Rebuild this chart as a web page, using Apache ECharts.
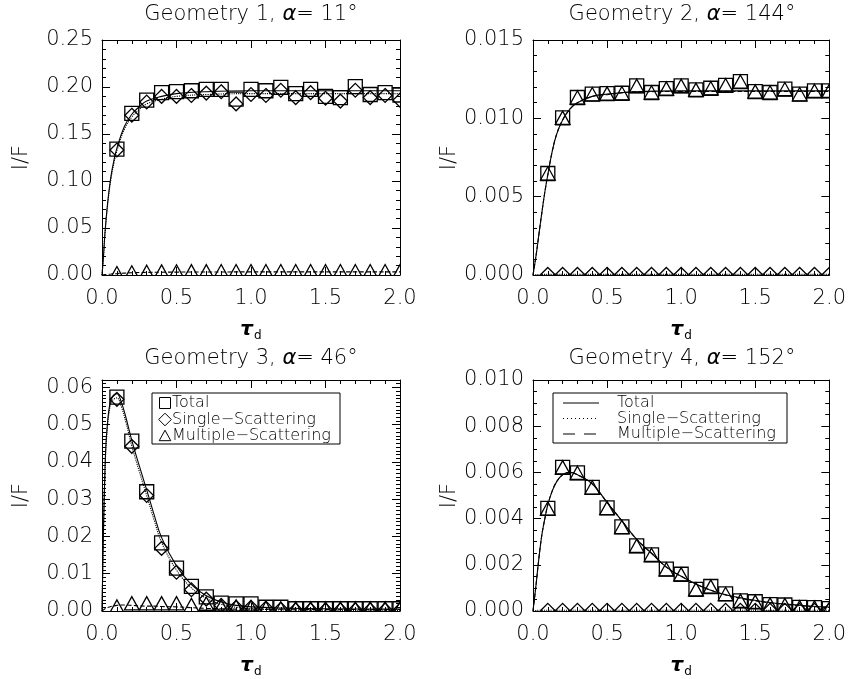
<!DOCTYPE html>
<html>
<head>
<meta charset="utf-8">
<script src="https://cdn.jsdelivr.net/npm/echarts@6/dist/echarts.min.js"></script>
<style>
  html, body { margin: 0; padding: 0; background: #fff; }
  #chart { width: 849px; height: 679px; }
</style>
</head>
<body>
<div id="chart"></div>
<script>
// Optical depth grid of the simulated points
const tauPoints = [0.1, 0.2, 0.3, 0.4, 0.5, 0.6, 0.7, 0.8, 0.9, 1.0,
                   1.1, 1.2, 1.3, 1.4, 1.5, 1.6, 1.7, 1.8, 1.9, 2.0];

// Geometry 1 (alpha = 11 deg)
const g1Total    = [0.134, 0.172, 0.186, 0.194, 0.195, 0.196, 0.1975, 0.1975, 0.187, 0.1975,
                    0.196, 0.1997, 0.193, 0.1975, 0.190, 0.1887, 0.2003, 0.192, 0.194, 0.1915];
const g1Single   = [0.133, 0.170, 0.184, 0.190, 0.190, 0.191, 0.1935, 0.195, 0.182, 0.192,
                    0.191, 0.1965, 0.1887, 0.194, 0.188, 0.185, 0.1965, 0.1887, 0.191, 0.186];
const g1Multiple = [0.0012, 0.0020, 0.0026, 0.0030, 0.0031, 0.0032, 0.0032, 0.0033, 0.0033, 0.0033,
                    0.0033, 0.0033, 0.0033, 0.0033, 0.0033, 0.0033, 0.0033, 0.0033, 0.0033, 0.0033];

// Geometry 2 (alpha = 144 deg)
const g2Total    = [0.00648, 0.01003, 0.01133, 0.01154, 0.01158, 0.01160, 0.01207, 0.01165, 0.01190, 0.01207,
                    0.01182, 0.01192, 0.01211, 0.01234, 0.01171, 0.01165, 0.01186, 0.01154, 0.01175, 0.01175];
const g2Single   = [0.00004, 0.00004, 0.00004, 0.00004, 0.00004, 0.00004, 0.00004, 0.00004, 0.00004, 0.00004,
                    0.00004, 0.00004, 0.00004, 0.00004, 0.00004, 0.00004, 0.00004, 0.00004, 0.00004, 0.00004];
const g2Multiple = [0.00644, 0.00999, 0.01129, 0.01150, 0.01154, 0.01156, 0.01203, 0.01161, 0.01186, 0.01203,
                    0.01178, 0.01188, 0.01207, 0.01230, 0.01167, 0.01161, 0.01182, 0.01150, 0.01171, 0.01171];

// Geometry 3 (alpha = 46 deg)
const g3Total    = [0.0574, 0.0456, 0.0320, 0.0183, 0.0115, 0.0066, 0.0038, 0.0021, 0.0019, 0.0019,
                    0.0010, 0.0010, 0.0006, 0.0006, 0.0006, 0.0006, 0.0006, 0.0006, 0.0006, 0.0006];
const g3Single   = [0.0568, 0.0442, 0.0310, 0.0168, 0.0104, 0.0057, 0.0032, 0.0015, 0.0010, 0.0010,
                    0.0008, 0.0005, 0.0003, 0.0003, 0.0003, 0.0003, 0.0003, 0.0003, 0.0003, 0.0003];
const g3Multiple = [0.0010, 0.0019, 0.0019, 0.0019, 0.0019, 0.0014, 0.0018, 0.0010, 0.0010, 0.0008,
                    0.0006, 0.0005, 0.0005, 0.0005, 0.0005, 0.0005, 0.0005, 0.0005, 0.0005, 0.0005];

// Geometry 4 (alpha = 152 deg)
const g4Total    = [0.00444, 0.00622, 0.00598, 0.00535, 0.00446, 0.00364, 0.00282, 0.00243, 0.00181, 0.00159,
                    0.00094, 0.00106, 0.00074, 0.00044, 0.00040, 0.00028, 0.00026, 0.00016, 0.00015, 0.00010];
const g4Single   = [0.00003, 0.00003, 0.00003, 0.00003, 0.00003, 0.00003, 0.00003, 0.00003, 0.00003, 0.00003,
                    0.00003, 0.00003, 0.00003, 0.00003, 0.00003, 0.00003, 0.00003, 0.00003, 0.00003, 0.00003];
const g4Multiple = [0.00441, 0.00619, 0.00595, 0.00532, 0.00443, 0.00361, 0.00279, 0.00240, 0.00178, 0.00156,
                    0.00091, 0.00103, 0.00071, 0.00041, 0.00037, 0.00025, 0.00023, 0.00013, 0.00012, 0.00007];

// Model curves
const c1Tau      = [0, 0.01, 0.02, 0.04, 0.06, 0.08, 0.1, 0.15, 0.2, 0.25, 0.3, 0.4, 0.5, 0.7, 1.0, 1.5, 2.0];
const c1Total    = [0, 0.020, 0.045, 0.080, 0.105, 0.122, 0.135, 0.158, 0.171, 0.179, 0.185, 0.190, 0.193, 0.195, 0.196, 0.196, 0.196];
const c1Single   = [0, 0.020, 0.044, 0.078, 0.102, 0.119, 0.132, 0.155, 0.168, 0.176, 0.182, 0.187, 0.190, 0.192, 0.193, 0.193, 0.193];
const c1Multiple = [0, 0.0002, 0.0004, 0.0007, 0.0010, 0.0013, 0.0015, 0.0020, 0.0024, 0.0026, 0.0028, 0.0030, 0.0031, 0.0032, 0.0033, 0.0033, 0.0033];

const c2Tau      = [0, 0.02, 0.04, 0.06, 0.08, 0.1, 0.13, 0.16, 0.2, 0.25, 0.3, 0.4, 0.5, 0.7, 1.0, 1.5, 2.0];
const c2Total    = [0, 0.0012, 0.0026, 0.0040, 0.0053, 0.0064, 0.0079, 0.0090, 0.0099, 0.0106, 0.0110, 0.0114, 0.01155, 0.0117, 0.01175, 0.01175, 0.01175];
const c2Single   = [0, 0.00002, 0.00003, 0.00004, 0.00004, 0.00004, 0.00004, 0.00004, 0.00004, 0.00004, 0.00004, 0.00004, 0.00004, 0.00004, 0.00004, 0.00004, 0.00004];
const c2Multiple = [0, 0.0012, 0.0026, 0.0040, 0.0053, 0.0064, 0.0079, 0.0090, 0.0099, 0.0106, 0.0110, 0.0114, 0.01151, 0.0117, 0.01171, 0.01171, 0.01171];

const c3Tau      = [0, 0.01, 0.02, 0.03, 0.05, 0.07, 0.1, 0.13, 0.16, 0.2, 0.25, 0.3, 0.35, 0.4, 0.5, 0.6, 0.7, 0.8, 0.9, 1.0, 1.2, 1.5, 2.0];
const c3Total    = [0, 0.022, 0.038, 0.047, 0.055, 0.0575, 0.0583, 0.056, 0.052, 0.0458, 0.039, 0.0325, 0.0258, 0.0197, 0.0121, 0.0071, 0.0041, 0.0024, 0.0015, 0.0011, 0.0008, 0.0006, 0.0005];
const c3Single   = [0, 0.021, 0.037, 0.046, 0.054, 0.0565, 0.0572, 0.0548, 0.0507, 0.0443, 0.0375, 0.031, 0.0244, 0.0184, 0.011, 0.0062, 0.0034, 0.0018, 0.0010, 0.0006, 0.0003, 0.0002, 0.0001];
const c3Multiple = [0, 0.0003, 0.0006, 0.0008, 0.0011, 0.0013, 0.0015, 0.0016, 0.0016, 0.0015, 0.0014, 0.0013, 0.0013, 0.0012, 0.0011, 0.0009, 0.0007, 0.0006, 0.0005, 0.0005, 0.0005, 0.0004, 0.0004];

const c4Tau      = [0, 0.02, 0.04, 0.06, 0.08, 0.1, 0.13, 0.16, 0.2, 0.25, 0.3, 0.4, 0.5, 0.6, 0.7, 0.8, 0.9, 1.0, 1.2, 1.4, 1.6, 1.8, 2.0];
const c4Total    = [0, 0.0011, 0.0023, 0.0033, 0.0040, 0.0046, 0.0052, 0.0056, 0.0059, 0.0060, 0.0059, 0.0055, 0.0047, 0.0039, 0.0031, 0.0025, 0.0019, 0.0015, 0.0009, 0.00057, 0.00037, 0.00025, 0.00017];
const c4Single   = [0, 0.00002, 0.00003, 0.00003, 0.00003, 0.00003, 0.00003, 0.00003, 0.00003, 0.00003, 0.00003, 0.00003, 0.00003, 0.00003, 0.00003, 0.00003, 0.00003, 0.00003, 0.00003, 0.00003, 0.00003, 0.00003, 0.00003];
const c4Multiple = [0, 0.0011, 0.0023, 0.0033, 0.0040, 0.0046, 0.0052, 0.0056, 0.0059, 0.0060, 0.0059, 0.0055, 0.0047, 0.0039, 0.0031, 0.0025, 0.0019, 0.0015, 0.0009, 0.00055, 0.00035, 0.00023, 0.00015];

// Axis tick settings
const xTicks = { min: 0, max: 2, interval: 0.5, minor: 5, digits: 1 };
const yTicks = [
  { max: 0.25,   interval: 0.05,  minor: 5,  digits: 2 },
  { max: 0.015,  interval: 0.005, minor: 5,  digits: 3 },
  { max: 0.062,  interval: 0.01,  minor: 10, digits: 2 },
  { max: 0.010,  interval: 0.002, minor: 4,  digits: 3 }
];
const titles = [
  ['Geometry 1, ', '11°'],
  ['Geometry 2, ', '144°'],
  ['Geometry 3, ', '46°'],
  ['Geometry 4, ', '152°']
];

const FONT = '"DejaVu Sans", "Liberation Sans", sans-serif';
const INK = '#000';

const grids = [
  { left: 102, top: 40,  width: 298, height: 235 },
  { left: 533, top: 40,  width: 299, height: 235 },
  { left: 102, top: 380, width: 298, height: 235 },
  { left: 533, top: 380, width: 299, height: 235 }
];

const panels = [
  { pts: [g1Total, g1Single, g1Multiple], curve: [c1Tau, c1Total, c1Single, c1Multiple] },
  { pts: [g2Total, g2Single, g2Multiple], curve: [c2Tau, c2Total, c2Single, c2Multiple] },
  { pts: [g3Total, g3Single, g3Multiple], curve: [c3Tau, c3Total, c3Single, c3Multiple] },
  { pts: [g4Total, g4Single, g4Multiple], curve: [c4Tau, c4Total, c4Single, c4Multiple] }
];

function pairs(xs, ys) { return xs.map((x, i) => [x, ys[i]]); }

// Hollow plot symbols drawn through the axis scales
function markerPoints(kind, cx, cy, s) {
  const h = s / 2;
  if (kind === 'square') return [[cx - h, cy - h], [cx + h, cy - h], [cx + h, cy + h], [cx - h, cy + h]];
  if (kind === 'diamond') { const d = h * 1.15; return [[cx, cy - d], [cx + d, cy], [cx, cy + d], [cx - d, cy]]; }
  return [[cx, cy - h * 1.05], [cx + h * 1.05, cy + h * 0.85], [cx - h * 1.05, cy + h * 0.85]];
}
function markerRenderer(kind, size) {
  return function (params, api) {
    const c = api.coord([api.value(0), api.value(1)]);
    return {
      type: 'polygon',
      shape: { points: markerPoints(kind, c[0], c[1], size) },
      style: { fill: 'none', stroke: INK, lineWidth: 1.3 }
    };
  };
}

const axisCommon = {
  type: 'value',
  axisLine: { show: true, onZero: false, lineStyle: { color: INK, width: 1 } },
  axisTick: { show: true, inside: true, length: 8, lineStyle: { color: INK, width: 1 } },
  minorTick: { show: true, length: 4, lineStyle: { color: INK, width: 1 } },
  splitLine: { show: false },
  minorSplitLine: { show: false }
};

const xAxis = [], yAxis = [], series = [];
grids.forEach((g, i) => {
  const yt = yTicks[i];
  xAxis.push(Object.assign({}, axisCommon, {
    gridIndex: i, position: 'bottom', min: xTicks.min, max: xTicks.max, interval: xTicks.interval,
    minorTick: Object.assign({}, axisCommon.minorTick, { splitNumber: xTicks.minor }),
    axisLabel: { color: INK, fontFamily: FONT, fontWeight: 200, fontSize: 21, margin: 13,
                 formatter: v => v.toFixed(xTicks.digits) },
    name: '{t|τ}{d|d}', nameLocation: 'middle', nameGap: 43,
    nameTextStyle: { rich: {
      t: { fontFamily: FONT, fontSize: 20, fontWeight: 'bold', fontStyle: 'italic', color: INK },
      d: { fontFamily: FONT, fontSize: 12, color: INK, padding: [12, 0, 0, 1] }
    } }
  }));
  xAxis.push(Object.assign({}, axisCommon, {
    gridIndex: i, position: 'top', min: xTicks.min, max: xTicks.max, interval: xTicks.interval,
    minorTick: Object.assign({}, axisCommon.minorTick, { splitNumber: xTicks.minor }),
    axisLabel: { show: false }
  }));
  yAxis.push(Object.assign({}, axisCommon, {
    gridIndex: i, position: 'left', min: 0, max: yt.max, interval: yt.interval,
    minorTick: Object.assign({}, axisCommon.minorTick, { splitNumber: yt.minor }),
    axisLabel: { color: INK, fontFamily: FONT, fontWeight: 200, fontSize: 21, margin: 9,
                 showMaxLabel: (i !== 2), formatter: v => v.toFixed(yt.digits) },
    name: 'I/F', nameLocation: 'middle', nameGap: 70, nameRotate: 90,
    nameTextStyle: { fontFamily: FONT, fontWeight: 200, fontSize: 21, color: INK }
  }));
  yAxis.push(Object.assign({}, axisCommon, {
    gridIndex: i, position: 'right', min: 0, max: yt.max, interval: yt.interval,
    minorTick: Object.assign({}, axisCommon.minorTick, { splitNumber: yt.minor }),
    axisLabel: { show: false }
  }));

  const p = panels[i];
  const lineTypes = ['solid', 'dotted', 'dashed'];
  const names = ['Total', 'Single-Scattering', 'Multiple-Scattering'];
  for (let k = 0; k < 3; k++) {
    series.push({
      type: 'line', name: names[k] + ' model', xAxisIndex: 2 * i, yAxisIndex: 2 * i,
      data: pairs(p.curve[0], p.curve[k + 1]), smooth: 0.4, showSymbol: false, clip: true,
      lineStyle: { color: INK, width: 1.1, type: lineTypes[k] }, z: 2
    });
  }
  const kinds = ['square', 'diamond', 'triangle'];
  const sizes = [14, 12, 14];
  for (let k = 0; k < 3; k++) {
    series.push({
      type: 'custom', name: names[k], xAxisIndex: 2 * i, yAxisIndex: 2 * i,
      data: pairs(tauPoints, p.pts[k]), clip: true,
      renderItem: markerRenderer(kinds[k], sizes[k]), z: 3
    });
  }
});

// Panel titles
const titleCenters = [[251, 15], [682, 15], [251, 359], [682, 359]];
const graphic = titles.map((t, i) => ({
  type: 'text', x: titleCenters[i][0], y: titleCenters[i][1],
  style: {
    text: '{n|' + t[0] + '}{a|α}{n|= ' + t[1] + '}',
    align: 'center', verticalAlign: 'middle',
    rich: {
      n: { fontFamily: FONT, fontWeight: 200, fontSize: 21, fill: INK },
      a: { fontFamily: FONT, fontStyle: 'italic', fontSize: 21, fill: INK }
    }
  }
}));

// Legend of Geometry 3: plot symbols
const leg3 = { x: 152, y: 393, w: 188, h: 51 };
graphic.push({ type: 'rect', shape: { x: leg3.x, y: leg3.y, width: leg3.w, height: leg3.h },
  style: { fill: '#fff', stroke: INK, lineWidth: 1 }, z: 10 });
const leg3Rows = [['square', 'Total'], ['diamond', 'Single−Scattering'], ['triangle', 'Multiple−Scattering']];
leg3Rows.forEach((r, j) => {
  const cy = leg3.y + 10 + j * 16.5;
  graphic.push({ type: 'polygon', shape: { points: markerPoints(r[0], leg3.x + 13, cy, 11) },
    style: { fill: 'none', stroke: INK, lineWidth: 1 }, z: 11 });
  graphic.push({ type: 'text', x: leg3.x + 20, y: cy,
    style: { text: r[1], fontFamily: FONT, fontWeight: 200, fontSize: 16, fill: INK, verticalAlign: 'middle' }, z: 11 });
});

// Legend of Geometry 4: line styles
const leg4 = { x: 553, y: 393, w: 234, h: 50 };
graphic.push({ type: 'rect', shape: { x: leg4.x, y: leg4.y, width: leg4.w, height: leg4.h },
  style: { fill: '#fff', stroke: INK, lineWidth: 1 }, z: 10 });
const leg4Rows = [[null, 'Total'], [[1, 3], 'Single−Scattering'], [[12, 9], 'Multiple−Scattering']];
leg4Rows.forEach((r, j) => {
  const cy = leg4.y + 10 + j * 15.5;
  graphic.push({ type: 'line', shape: { x1: leg4.x + 10, y1: cy, x2: leg4.x + 46, y2: cy },
    style: { stroke: INK, lineWidth: 1, lineDash: r[0] }, z: 11 });
  graphic.push({ type: 'text', x: leg4.x + 64, y: cy,
    style: { text: r[1], fontFamily: FONT, fontWeight: 200, fontSize: 16, fill: INK, verticalAlign: 'middle' }, z: 11 });
});

const chart = echarts.init(document.getElementById('chart'), null, { renderer: 'canvas' });
chart.setOption({
  backgroundColor: '#fff',
  animation: false,
  grid: grids,
  xAxis: xAxis,
  yAxis: yAxis,
  series: series,
  graphic: graphic
});
</script>
</body>
</html>
